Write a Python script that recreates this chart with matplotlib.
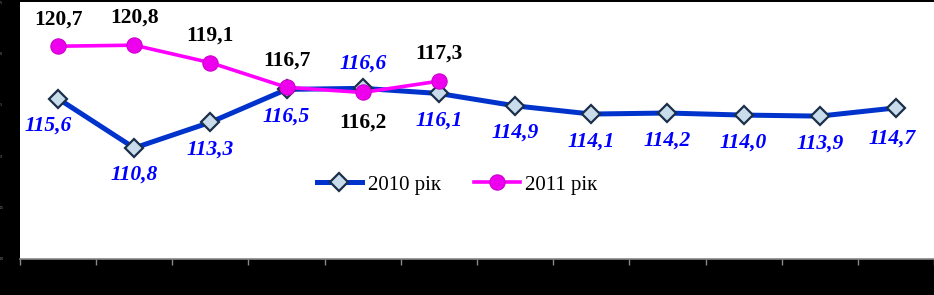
import matplotlib
matplotlib.use("Agg")
import matplotlib.pyplot as plt
import numpy as np

months = ["Січень", "Лютий", "Березень", "Квітень", "Травень", "Червень",
          "Липень", "Серпень", "Вересень", "Жовтень", "Листопад", "Грудень"]
v2010 = [115.6, 110.8, 113.3, 116.5, 116.6, 116.1, 114.9, 114.1, 114.2, 114.0, 113.9, 114.7]
v2011 = [120.7, 120.8, 119.1, 116.7, 116.2, 117.3]
label2010 = "2010 рік"
label2011 = "2011 рік"
yticks = [100, 105, 110, 115, 120, 125]

fig = plt.figure(figsize=(9.34, 2.95), dpi=100, facecolor="black")
ax = fig.add_axes([20/934, 1-259/295, 914/934, 257/295])
ax.set_facecolor("white")

x10 = np.arange(len(v2010))
x11 = np.arange(len(v2011))

ax.plot(x10, v2010, color="#0033CC", lw=3.6, marker="D", ms=9.5,
        mfc="#C9DCEC", mec="#1B2F4A", mew=1.6, label=label2010, zorder=3)
ax.plot(x11, v2011, color="#FF00FF", lw=2.6, marker="o", ms=11,
        mfc="#EE00EE", mec="#CC00CC", mew=0.8, label=label2011, zorder=4)

serif = ["Liberation Serif", "DejaVu Serif"]
for i, v in enumerate(v2010):
    dy = -19.5
    dx = 0
    if i == 4:
        dy = 17.5
    if i == 0:
        dx = -7
    if i == 11:
        dx = -3
        dy = -22
    ax.annotate(f"{v:.1f}".replace(".", ","), (i, v), xytext=(dx, dy),
                textcoords="offset points", ha="center", va="center",
                fontsize=15.5, fontweight="bold", fontstyle="italic",
                color="#0000FF", family=serif, zorder=5)
for i, v in enumerate(v2011):
    dy = 19.5
    if i == 4:
        dy = -22
    ax.annotate(f"{v:.1f}".replace(".", ","), (i, v), xytext=(0, dy),
                textcoords="offset points", ha="center", va="center",
                fontsize=15.5, fontweight="bold", color="black",
                family=serif, zorder=5)

ax.set_xlim(-0.5, len(months) - 0.5)
ax.set_ylim(100, 125)
ax.set_yticks(yticks)
ax.set_yticklabels([str(t) for t in yticks], fontsize=2, color="#999999")
ax.tick_params(axis="y", length=0, pad=12)
ax.set_xticks(np.arange(len(months)))
ax.set_xticklabels(months, color="black", fontsize=1)
ax.tick_params(axis="x", which="major", length=0)
ax.set_xticks(np.arange(len(months) + 1) - 0.5, minor=True)
ax.tick_params(axis="x", which="minor", length=4, color="#888888", width=1)

for s in ["top", "right", "left"]:
    ax.spines[s].set_visible(False)
ax.spines["bottom"].set_color("#888888")
ax.spines["bottom"].set_linewidth(1.2)

leg = ax.legend(loc="center", bbox_to_anchor=(0.478, 0.288), ncol=2, frameon=False,
                prop={"family": serif, "size": 15}, handlelength=2.2,
                columnspacing=1.6, handletextpad=0.25)

fig.savefig("out.png", dpi=100, facecolor="black")
